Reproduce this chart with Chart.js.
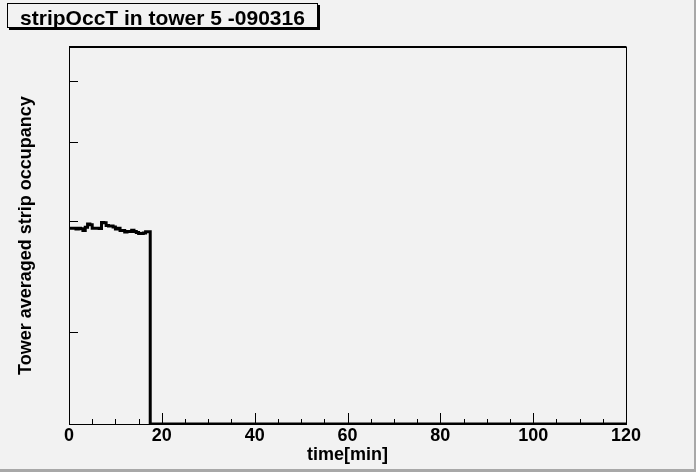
<!DOCTYPE html>
<html>
<head>
<meta charset="utf-8">
<title>stripOccT in tower 5 -090316</title>
<script src="https://cdn.jsdelivr.net/npm/chart.js@4.4.1/dist/chart.umd.min.js"></script>
<style>
  html, body { margin: 0; padding: 0; background: #f2f2f2; }
  canvas { display: block; }
</style>
</head>
<body>
<canvas id="occchart" width="696" height="472"></canvas>
<script>
"use strict";
// run 090316, tower 5 : averaged strip occupancy, 0.5 min bins (low edges)
var timeMin = [
  0, 0.5, 1, 1.5, 2, 2.5, 3, 3.5, 4, 4.5,
  5, 5.5, 6, 6.5, 7, 7.5, 8, 8.5, 9, 9.5,
  10, 10.5, 11, 11.5, 12, 12.5, 13, 13.5, 14, 14.5,
  15, 15.5, 16, 16.5, 17, 17.5, 120
];
var occupancy = [
  2.921, 2.921, 2.920, 2.912, 2.921, 2.915, 2.897, 2.931, 2.967, 2.960,
  2.920, 2.920, 2.920, 2.918, 2.982, 2.980, 2.950, 2.946, 2.944, 2.935,
  2.912, 2.921, 2.897, 2.897, 2.882, 2.887, 2.887, 2.901, 2.887, 2.877,
  2.867, 2.867, 2.872, 2.883, 2.883, 0, 0
];
var xTickValues = [0, 20, 40, 60, 80, 100, 120];
var yTickValues = [2, 3, 4, 5];
var yMin = 1.43, yMax = 5.66;
var chartTitle = "stripOccT in tower 5 -090316";
var xTitle = "time[min]";
var yTitle = "Tower averaged strip occupancy";

var labelFont = { family: "'Liberation Sans', Arial, Helvetica, sans-serif", size: 18, weight: "bold" };

// empty bins sit on the bottom of the log frame, like ROOT does
var points = timeMin.map(function (t, i) {
  return { x: t, y: Math.max(occupancy[i], yMin) };
});

var rootFrame = {
  id: "rootFrame",
  beforeDraw: function (chart) {
    var c = chart.ctx, w = chart.width, h = chart.height;
    c.save();
    c.fillStyle = "#f2f2f2";
    c.fillRect(0, 0, w, h);
    c.fillStyle = "#a8a8a8";
    c.fillRect(w - 2, 0, 2, h);
    c.fillRect(0, h - 3, w, 3);
    c.restore();
  },
  afterDraw: function (chart) {
    var c = chart.ctx, a = chart.chartArea;
    var xs = chart.scales.x, ys = chart.scales.y;
    c.save();
    c.strokeStyle = "#000";
    // top and right side of the frame
    c.lineWidth = 2;
    c.beginPath();
    c.moveTo(a.left, a.top);
    c.lineTo(a.right + 0.5, a.top);
    c.stroke();
    c.lineWidth = 1;
    c.beginPath();
    c.moveTo(Math.round(a.right) + 0.5, a.top);
    c.lineTo(Math.round(a.right) + 0.5, a.bottom);
    c.stroke();
    // x ticks, drawn inside the frame
    c.beginPath();
    for (var i = 0; i < xTickValues.length; i++) {
      var px = Math.round(xs.getPixelForValue(xTickValues[i])) + 0.5;
      c.moveTo(px, a.bottom);
      c.lineTo(px, a.bottom - 11);
      if (i < xTickValues.length - 1) {
        var step = (xTickValues[i + 1] - xTickValues[i]) / 4;
        for (var k = 1; k < 4; k++) {
          var mx = Math.round(xs.getPixelForValue(xTickValues[i] + k * step)) + 0.5;
          c.moveTo(mx, a.bottom);
          c.lineTo(mx, a.bottom - 5);
        }
      }
    }
    // y ticks
    yTickValues.forEach(function (v) {
      var py = Math.round(ys.getPixelForValue(v)) + 0.5;
      c.moveTo(a.left, py);
      c.lineTo(a.left + 9, py);
    });
    c.stroke();
    // title box with shadow
    var bx = 7, by = 3, bw = 311, bh = 25;
    c.fillStyle = "#f2f2f2";
    c.fillRect(bx, by, bw, bh);
    c.fillStyle = "#000";
    c.fillRect(bx + 2, by + bh, bw, 2);
    c.fillRect(bx + bw, by + 2, 2, bh);
    c.strokeRect(bx + 0.5, by + 0.5, bw - 1, bh - 1);
    c.font = "bold 21px 'Liberation Sans', Arial, Helvetica, sans-serif";
    c.textAlign = "center";
    c.textBaseline = "alphabetic";
    c.fillText(chartTitle, bx + bw / 2, by + 22);
    c.restore();
  }
};

document.addEventListener("DOMContentLoaded", function () {
  var ctx = document.getElementById("occchart").getContext("2d");
  new Chart(ctx, {
    type: "line",
    data: {
      datasets: [
        {
          label: "stripOccT",
          data: points,
          borderColor: "#000000",
          borderWidth: 3,
          pointRadius: 0,
          fill: !1,
          stepped: "before",
          tension: 0,
          borderJoinStyle: "miter",
          borderCapStyle: "butt"
        }
      ]
    },
    options: {
      responsive: !1,
      animation: !1,
      devicePixelRatio: 1,
      layout: { padding: { left: 0, top: 47, right: 70, bottom: 0 } },
      plugins: { legend: { display: !1 }, tooltip: { enabled: !1 } },
      scales: {
        x: {
          type: "linear",
          min: 0,
          max: 120,
          afterBuildTicks: function (s) {
            s.ticks = xTickValues.map(function (v) { return { value: v }; });
          },
          afterFit: function (s) { s.height = 48; },
          grid: { display: !1, drawTicks: !1 },
          border: { display: !0, color: "#000", width: 1 },
          ticks: { color: "#000", font: labelFont, padding: 1, maxRotation: 0, autoSkip: !1 },
          title: { display: !0, text: xTitle, color: "#000", font: labelFont, padding: { top: 0, bottom: 6 } }
        },
        y: {
          type: "logarithmic",
          min: yMin,
          max: yMax,
          afterBuildTicks: function (s) {
            s.ticks = yTickValues.map(function (v) { return { value: v }; });
          },
          afterFit: function (s) { s.width = 69; },
          grid: { display: !1, drawTicks: !1 },
          border: { display: !0, color: "#000", width: 1 },
          ticks: { display: !1 },
          title: { display: !0, text: yTitle, color: "#000", font: labelFont, padding: { top: 15, bottom: 0 } }
        }
      }
    },
    plugins: [rootFrame]
  });
});
</script>
</body>
</html>
